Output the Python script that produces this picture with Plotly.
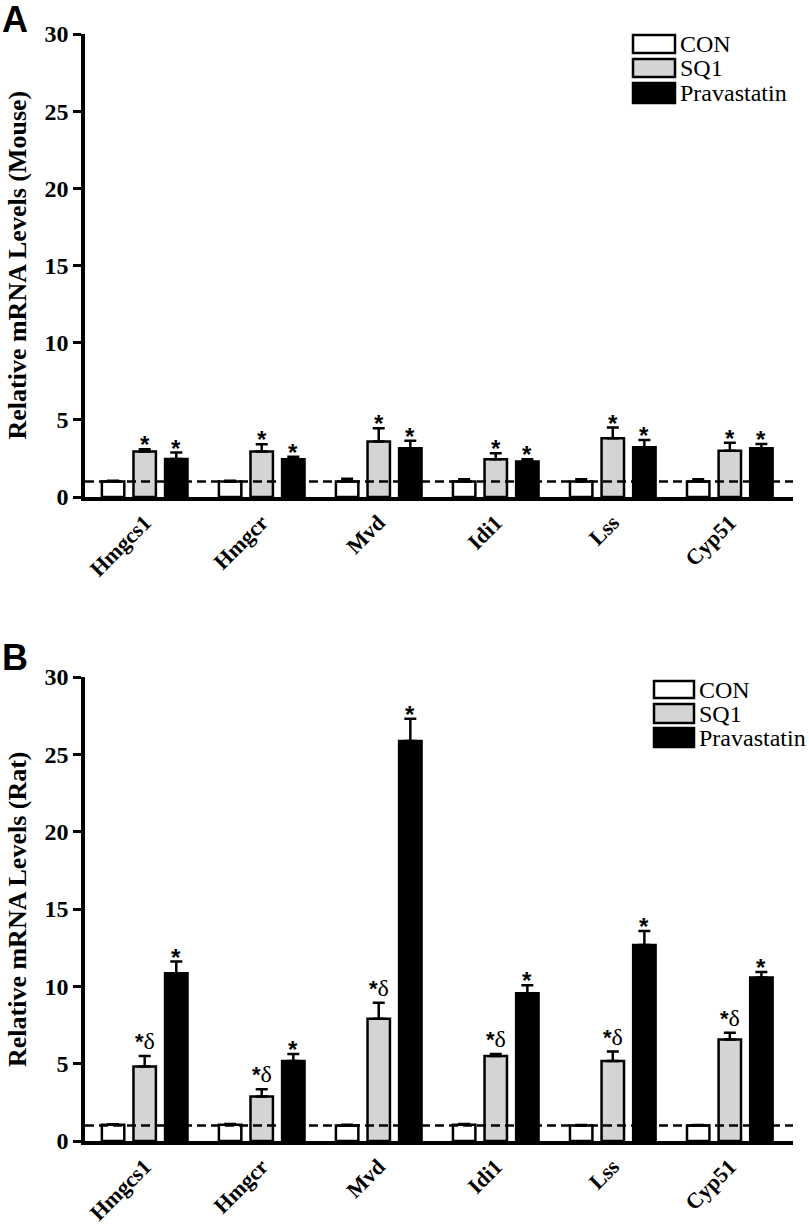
import plotly.graph_objects as go

genes = ["Hmgcs1", "Hmgcr", "Mvd", "Idi1", "Lss", "Cyp51"]
series = ["CON", "SQ1", "Pravastatin"]

# Panel A (Mouse): means and upper error ends
mouse_con = [1.0, 1.0, 1.0, 1.0, 1.0, 1.0]
mouse_con_err = [1.05, 1.05, 1.18, 1.15, 1.15, 1.15]
mouse_sq1 = [2.95, 2.95, 3.6, 2.45, 3.8, 3.0]
mouse_sq1_err = [3.1, 3.42, 4.45, 2.83, 4.5, 3.52]
mouse_prav = [2.47, 2.45, 3.16, 2.3, 3.22, 3.16]
mouse_prav_err = [2.88, 2.6, 3.65, 2.45, 3.7, 3.44]
mouse_marks_sq1 = ["*", "*", "*", "*", "*", "*"]
mouse_marks_prav = ["*", "*", "*", "*", "*", "*"]

# Panel B (Rat)
rat_con = [1.05, 1.05, 1.0, 1.05, 1.0, 1.0]
rat_con_err = [1.08, 1.1, 1.05, 1.1, 1.03, 1.04]
rat_sq1 = [4.82, 2.87, 7.9, 5.5, 5.17, 6.57]
rat_sq1_err = [5.5, 3.34, 8.94, 5.62, 5.78, 7.0]
rat_prav = [10.84, 5.17, 25.86, 9.55, 12.67, 10.57]
rat_prav_err = [11.6, 5.62, 27.3, 10.07, 13.57, 10.93]
rat_marks_sq1 = ["*δ", "*δ", "*δ", "*δ", "*δ", "*δ"]
rat_marks_prav = ["*", "*", "*", "*", "*", "*"]

baseline = 1.0
y_ticks = [0, 5, 10, 15, 20, 25, 30]

W, H = 809, 1228
SERIF = "Liberation Serif"
SANS = "Liberation Sans"
fills = {"CON": "white", "SQ1": "#d4d4d4", "Pravastatin": "black"}

X0, X1 = 85, 793
xrange_ = [-0.51, 5.54]
bargap, bargroupgap = 0.19, 0.29
unit_px = (X1 - X0) / (xrange_[1] - xrange_[0])
pitch = unit_px * (1 - bargap) / 3

def px_x(p):
    return p / W

def px_y(p):
    return 1 - p / H

panels = [
    dict(xa="x", ya="y", top=34, bot=497, title="Relative mRNA Levels (Mouse)", letter="A", letter_y=-3,
         data=[(mouse_con, mouse_con_err, None), (mouse_sq1, mouse_sq1_err, mouse_marks_sq1),
               (mouse_prav, mouse_prav_err, mouse_marks_prav)],
         leg_x=633, leg_w=42, leg_rows=[(35, 53), (59, 77), (83, 103)], leg_tx=679),
    dict(xa="x2", ya="y2", top=677, bot=1141, title="Relative mRNA Levels (Rat)", letter="B", letter_y=635,
         data=[(rat_con, rat_con_err, None), (rat_sq1, rat_sq1_err, rat_marks_sq1),
               (rat_prav, rat_prav_err, rat_marks_prav)],
         leg_x=654, leg_w=40, leg_rows=[(681, 698), (704, 723), (728, 747)], leg_tx=698),
]

fig = go.Figure()
annotations = []
shapes = []

for p in panels:
    for k, (name, (vals, errs, marks)) in enumerate(zip(series, p["data"])):
        fig.add_trace(go.Bar(
            x=genes, y=vals, name=name, xaxis=p["xa"], yaxis=p["ya"], showlegend=False,
            marker=dict(color=fills[name], line=dict(color="black", width=2.5)),
            error_y=dict(type="data", symmetric=False,
                         array=[e - v for v, e in zip(vals, errs)],
                         arrayminus=[0] * len(vals), color="black", thickness=2.5, width=6),
        ))
        if marks:
            for g, e, m in zip(genes, errs, marks):
                if m == "*":
                    txt = "*"
                    fnt = dict(family=SANS, size=24, color="black", weight=700)
                    ys = -11
                else:
                    txt = "<span style='font-family:Liberation Sans;font-weight:bold;font-size:22px'>*</span>δ"
                    fnt = dict(family=SERIF, size=24, color="black")
                    ys = 0
                annotations.append(dict(
                    x=g, y=e, xref=p["xa"], yref=p["ya"], text=txt, showarrow=False,
                    xanchor="center", yanchor="bottom", xshift=(k - 1) * pitch, yshift=ys, font=fnt))
    # dashed baseline
    shapes.append(dict(type="line", xref=p["xa"] + " domain", yref=p["ya"], x0=0, x1=1,
                       y0=baseline, y1=baseline, layer="above",
                       line=dict(color="black", width=2.5, dash="9px,5px")))
    # legend (drawn)
    for name, (y0, y1) in zip(series, p["leg_rows"]):
        shapes.append(dict(type="rect", xref="paper", yref="paper",
                           x0=px_x(p["leg_x"]), x1=px_x(p["leg_x"] + p["leg_w"]),
                           y0=px_y(y1), y1=px_y(y0), fillcolor=fills[name],
                           line=dict(color="black", width=2.5)))
        annotations.append(dict(x=px_x(p["leg_tx"]), y=px_y((y0 + y1) / 2), xref="paper", yref="paper",
                                text=name, showarrow=False, xanchor="left", yanchor="middle",
                                borderpad=0,
                                font=dict(family=SERIF, size=24, color="black")))
    # y title
    annotations.append(dict(x=px_x(17), y=px_y((p["top"] + p["bot"]) / 2), xref="paper", yref="paper",
                            text=p["title"], textangle=-90, showarrow=False,
                            xanchor="center", yanchor="middle",
                            font=dict(family=SERIF, size=26, color="black", weight=700)))
    # panel letter
    annotations.append(dict(x=px_x(0), y=px_y(p["letter_y"]), xref="paper", yref="paper",
                            text=p["letter"], showarrow=False, xanchor="left", yanchor="top",
                            font=dict(family=SANS, size=36, color="black", weight=700)))

axis_common_x = dict(range=xrange_, showline=True, linecolor="black", linewidth=4, ticks="",
                     showgrid=False, zeroline=False, tickangle=-45, automargin=False,
                     tickfont=dict(family=SERIF, size=22, color="black", weight=700),
                     domain=[px_x(X0), px_x(X1)])
axis_common_y = dict(range=[0, 30], tickvals=y_ticks, showline=True, linecolor="black", linewidth=3.5,
                     ticks="outside", ticklen=8, tickwidth=3, tickcolor="black",
                     showgrid=False, zeroline=False, automargin=False,
                     tickfont=dict(family=SERIF, size=24, color="black", weight=700))

fig.update_layout(
    width=W, height=H, margin=dict(l=0, r=0, t=0, b=0),
    paper_bgcolor="white", plot_bgcolor="white",
    barmode="group", bargap=bargap, bargroupgap=bargroupgap,
    xaxis=dict(axis_common_x, anchor="y"),
    yaxis=dict(axis_common_y, anchor="x", domain=[px_y(497), px_y(34)]),
    xaxis2=dict(axis_common_x, anchor="y2"),
    yaxis2=dict(axis_common_y, anchor="x2", domain=[px_y(1141), px_y(677)]),
    annotations=annotations, shapes=shapes,
)

fig.write_html("out.html", config={"displayModeBar": False},
               post_script="document.body.style.margin='0';document.body.style.overflow='hidden';")
